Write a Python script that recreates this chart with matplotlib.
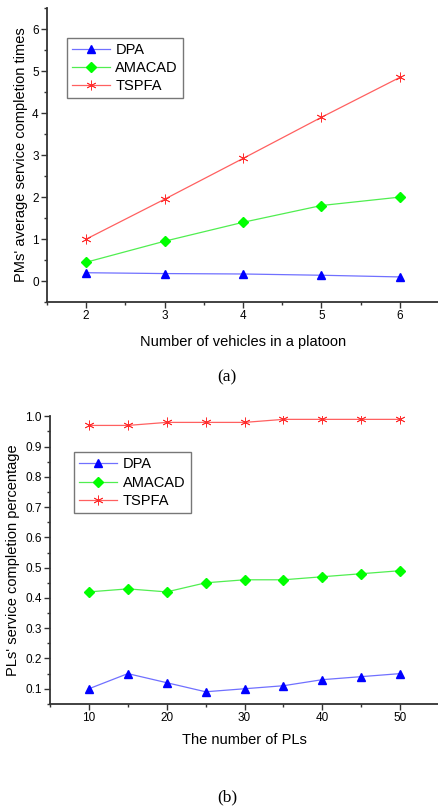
import matplotlib.pyplot as plt
from matplotlib.ticker import MultipleLocator

plt.rcParams['font.family'] = ['Liberation Sans', 'DejaVu Sans']

# (a) PMs' average service completion times
vehicles = [2, 3, 4, 5, 6]
dpa_a = [0.2, 0.18, 0.17, 0.14, 0.1]
amacad_a = [0.45, 0.95, 1.4, 1.8, 2.0]
tspfa_a = [1.0, 1.95, 2.92, 3.9, 4.85]

# (b) PLs' service completion percentage
pls = [10, 15, 20, 25, 30, 35, 40, 45, 50]
dpa_b = [0.10, 0.15, 0.12, 0.09, 0.10, 0.11, 0.13, 0.14, 0.15]
amacad_b = [0.42, 0.43, 0.42, 0.45, 0.46, 0.46, 0.47, 0.48, 0.49]
tspfa_b = [0.97, 0.97, 0.98, 0.98, 0.98, 0.99, 0.99, 0.99, 0.99]

labels = ['DPA', 'AMACAD', 'TSPFA']

fig = plt.figure(figsize=(4.39, 8.10), dpi=100)
ax1 = fig.add_axes([0.107, 0.627, 0.893, 0.363])
ax2 = fig.add_axes([0.114, 0.131, 0.886, 0.355])


def draw(ax, x, dpa, amacad, tspfa):
    ax.plot(x, dpa, color='#7070ff', lw=0.9, marker='^', ms=6,
            mfc='#0000ff', mec='#0000ff', label=labels[0])
    ax.plot(x, amacad, color='#50ee50', lw=0.9, marker='D', ms=5,
            mfc='#00ff00', mec='#00ff00', label=labels[1])
    ax.plot(x, tspfa, color='#ff6060', lw=0.9, marker=(6, 2, 0), ms=7,
            mec='#ff3030', mew=0.6, label=labels[2])
    for s in ['top', 'right']:
        ax.spines[s].set_visible(False)
    for s in ['left', 'bottom']:
        ax.spines[s].set_linewidth(1.3)
        ax.spines[s].set_color('#333333')
    ax.tick_params(which='major', direction='out', length=4, width=1,
                   color='#333333', labelsize=8.5, pad=2)
    ax.tick_params(which='minor', direction='out', length=2.5, width=1,
                   color='#333333')


def legend(ax, y):
    ax.legend(loc='upper left', bbox_to_anchor=y, fontsize=10.5,
              frameon=True, fancybox=False, edgecolor='#555555',
              handlelength=2.6, borderpad=0.35, labelspacing=0.3,
              handletextpad=0.4, borderaxespad=0)


draw(ax1, vehicles, dpa_a, amacad_a, tspfa_a)
ax1.set_xlim(1.5, 6.5)
ax1.set_ylim(-0.5, 6.5)
ax1.xaxis.set_major_locator(MultipleLocator(1))
ax1.xaxis.set_minor_locator(MultipleLocator(0.5))
ax1.yaxis.set_major_locator(MultipleLocator(1))
ax1.yaxis.set_minor_locator(MultipleLocator(0.5))
ax1.set_xlabel('Number of vehicles in a platoon', fontsize=10.5, labelpad=9)
ax1.set_ylabel("PMs' average service completion times", fontsize=10.5, labelpad=3)
legend(ax1, (0.05, 0.9))

draw(ax2, pls, dpa_b, amacad_b, tspfa_b)
ax2.set_xlim(5, 55)
ax2.set_ylim(0.05, 1.0)
ax2.xaxis.set_major_locator(MultipleLocator(10))
ax2.xaxis.set_minor_locator(MultipleLocator(5))
ax2.yaxis.set_major_locator(MultipleLocator(0.1))
ax2.yaxis.set_minor_locator(MultipleLocator(0.05))
ax2.yaxis.set_major_formatter(plt.FormatStrFormatter('%.1f'))
ax2.set_xlabel('The number of PLs', fontsize=10.5, labelpad=6)
ax2.set_ylabel("PLs' service completion percentage", fontsize=10.5, labelpad=4)
legend(ax2, (0.062, 0.875))

fig.text(0.517, 1 - 377 / 810, '(a)', ha='center', va='center',
         fontsize=12.5, family='Liberation Serif')
fig.text(0.517, 1 - 797 / 810, '(b)', ha='center', va='center',
         fontsize=12.5, family='Liberation Serif')

fig.savefig('out.png', dpi=100)
